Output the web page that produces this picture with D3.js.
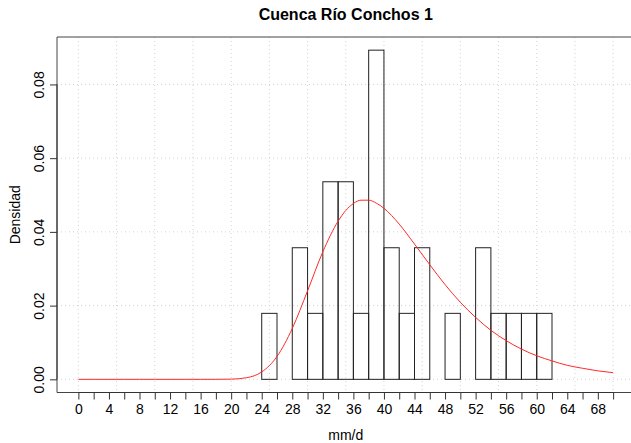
<!DOCTYPE html>
<html>
<head>
<meta charset="utf-8">
<script src="https://cdn.jsdelivr.net/npm/d3@7"></script>
<style>
  html, body { margin: 0; padding: 0; background: #fff; }
  svg { display: block; font-family: "Liberation Sans", Arial, Helvetica, sans-serif; }
</style>
</head>
<body>
<svg id="chart" width="631" height="443"></svg>
<script>
// Histogram of daily precipitation (density scale), bins of 2 mm/d from 0 to 70
const binWidth = 2;
const binDensity = [
  0, 0, 0, 0, 0, 0, 0, 0, 0, 0, 0, 0,      // 0 – 24
  0.0179, 0, 0.0357, 0.0179, 0.0536, 0.0536, // 24 – 36
  0.0179, 0.0893, 0.0357, 0.0179, 0.0357, 0, // 36 – 48
  0.0179, 0, 0.0357, 0.0179, 0.0179, 0.0179, // 48 – 60
  0.0179, 0, 0, 0, 0                          // 60 – 70
];

// Fitted density curve, sampled every 2 mm/d (every 1 mm/d around the mode)
const curveX = [0, 2, 4, 6, 8, 10, 12, 14, 16, 18, 20, 22, 24, 26, 28, 30, 32, 34, 35,
                36, 37, 38, 39, 40, 42, 44, 46, 48, 50, 52, 54, 56, 58, 60, 62, 64, 66, 68, 70];
const curveY = [0, 0, 0, 0, 0, 0, 0, 0, 0, 0.000003, 0.00005, 0.00043, 0.0020, 0.0062,
                0.0138, 0.0240, 0.0346, 0.0429, 0.0458, 0.0477, 0.0486, 0.0486, 0.0478,
                0.0464, 0.0421, 0.0367, 0.0311, 0.0257, 0.0209, 0.0168, 0.0133, 0.0105,
                0.0082, 0.0064, 0.0050, 0.0038, 0.0030, 0.0023, 0.0018];

const xTicks = [0, 2, 4, 6, 8, 10, 12, 14, 16, 18, 20, 22, 24, 26, 28, 30, 32, 34, 36,
                38, 40, 42, 44, 46, 48, 50, 52, 54, 56, 58, 60, 62, 64, 66, 68, 70];
const xTickLabels = [0, 4, 8, 12, 16, 20, 24, 28, 32, 36, 40, 44, 48, 52, 56, 60, 64, 68];
const yTicks = [0, 0.02, 0.04, 0.06, 0.08];
const xGrid = [0, 5, 10, 15, 20, 25, 30, 35, 40, 45, 50, 55, 60, 65, 70];

const titleText = "Cuenca Río Conchos 1";
const xLabel = "mm/d";
const yLabel = "Densidad";

const svg = d3.select("#chart");
const W = 631, H = 443;
const plotLeft = 57, plotTop = 37, plotRight = 634.5, plotBottom = 392.5;

const yMax = d3.max(binDensity);
const x = d3.scaleLinear().domain([-2.8, 72.8]).range([plotLeft, plotRight]);
const y = d3.scaleLinear().domain([-0.04 * yMax, 1.04 * yMax]).range([plotBottom, plotTop]);

// grid
const grid = svg.append("g")
  .attr("stroke", "#d3d3d3").attr("stroke-width", 1).attr("stroke-dasharray", "1,3");
grid.selectAll("line.v").data(xGrid).join("line").attr("class", "v")
  .attr("x1", d => x(d)).attr("x2", d => x(d))
  .attr("y1", plotTop).attr("y2", plotBottom);
grid.selectAll("line.h").data(yTicks).join("line").attr("class", "h")
  .attr("x1", plotLeft).attr("x2", W)
  .attr("y1", d => y(d)).attr("y2", d => y(d));

// histogram bars
svg.append("g")
  .selectAll("rect").data(binDensity).join("rect")
  .attr("x", (d, i) => x(i * binWidth))
  .attr("width", (d, i) => x((i + 1) * binWidth) - x(i * binWidth))
  .attr("y", d => y(d))
  .attr("height", d => y(0) - y(d))
  .attr("fill", "none")
  .attr("stroke", "#222")
  .attr("stroke-width", 1);

// fitted density
const line = d3.line()
  .x(d => x(d[0])).y(d => y(d[1]))
  .curve(d3.curveMonotoneX);
svg.append("path")
  .datum(curveX.map((v, i) => [v, curveY[i]]))
  .attr("d", line)
  .attr("fill", "none")
  .attr("stroke", "#ff2a2a")
  .attr("stroke-width", 1);

// plot frame (right edge lies outside the page)
svg.append("path")
  .attr("d", `M${plotRight},${plotTop}H${plotLeft}V${plotBottom}H${plotRight}`)
  .attr("fill", "none").attr("stroke", "#444").attr("stroke-width", 1);

// x axis
const xAxis = d3.axisBottom(x).tickValues(xTicks).tickSize(7).tickPadding(5)
  .tickFormat(d => xTickLabels.includes(d) ? d : "");
const gx = svg.append("g").attr("transform", `translate(0,${plotBottom})`).call(xAxis);
gx.select(".domain").attr("d", `M${x(0)},0H${x(70)}`).attr("stroke", "#333");
gx.selectAll(".tick line").attr("stroke", "#333");
gx.selectAll(".tick text").attr("font-size", 14).attr("fill", "#000")
  .attr("font-family", "Liberation Sans, Arial, sans-serif");

// y axis
const yAxis = d3.axisLeft(y).tickValues(yTicks).tickSize(7).tickFormat(d3.format(".2f"));
const gy = svg.append("g").attr("transform", `translate(${plotLeft},0)`).call(yAxis);
gy.select(".domain").attr("d", `M0,${y(0)}V${y(0.08)}`).attr("stroke", "#333");
gy.selectAll(".tick line").attr("stroke", "#333");
gy.selectAll(".tick text")
  .attr("font-size", 14).attr("fill", "#000")
  .attr("font-family", "Liberation Sans, Arial, sans-serif")
  .attr("text-anchor", "middle")
  .attr("x", null).attr("dy", null)
  .attr("transform", "translate(-13,0) rotate(-90)");

// title and axis labels
svg.append("text")
  .attr("x", (plotLeft + plotRight) / 2).attr("y", 20)
  .attr("text-anchor", "middle")
  .attr("font-size", 16).attr("font-weight", "bold")
  .text(titleText);

svg.append("text")
  .attr("x", (plotLeft + plotRight) / 2).attr("y", 440)
  .attr("text-anchor", "middle")
  .attr("font-size", 14)
  .text(xLabel);

svg.append("text")
  .attr("transform", `translate(20,${(plotTop + plotBottom) / 2}) rotate(-90)`)
  .attr("text-anchor", "middle")
  .attr("font-size", 14)
  .text(yLabel);
</script>
</body>
</html>
